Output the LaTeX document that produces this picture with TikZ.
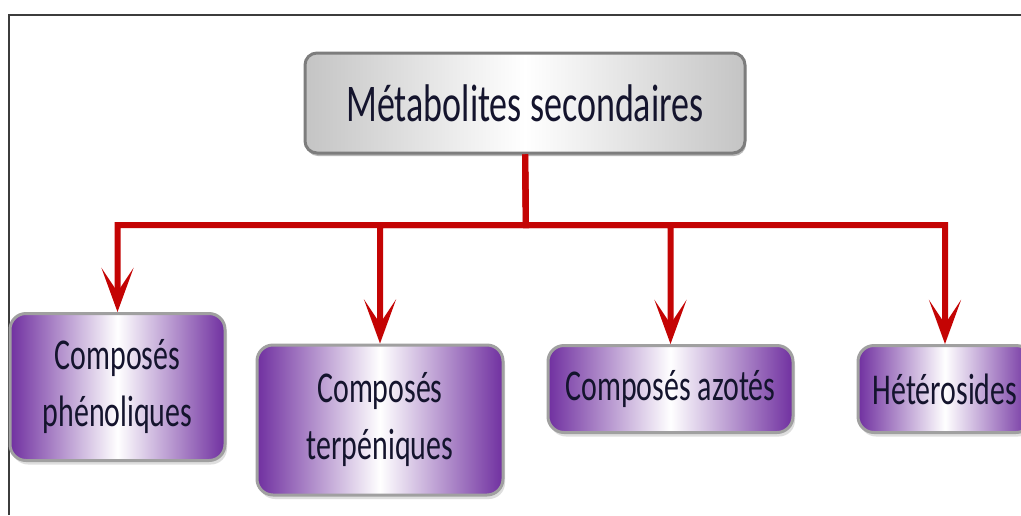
\documentclass[tikz,border=0pt]{standalone}
\usepackage{fontspec}
\setmainfont{Carlito}[FakeStretch=0.68]
\usepackage{tikz}
\usetikzlibrary{arrows.meta,shadows}

\definecolor{arrowred}{RGB}{196,4,4}
\definecolor{boxviolet}{RGB}{112,48,160}
\definecolor{boxgray}{RGB}{196,196,196}
\definecolor{txtdark}{RGB}{20,20,45}

\tikzset{
  rline/.style={draw=arrowred, line width=6, -{Stealth[length=44,width=32,inset=24]}},
  headbox/.style={draw={rgb,255:red,125;green,125;blue,125}, line width=3, rounded corners=12,
    left color=boxgray, right color=boxgray, middle color=white,
    drop shadow={shadow xshift=1pt, shadow yshift=-3pt, fill=black!55},
    text=txtdark, align=center, font=\fontsize{53}{60}\selectfont},
  classbox/.style={draw={rgb,255:red,160;green,160;blue,160}, line width=3, rounded corners=16,
    left color=boxviolet, right color=boxviolet, middle color=white,
    drop shadow={shadow xshift=2pt, shadow yshift=-4pt, fill=black!25},
    text=txtdark, align=center, inner sep=0pt, font=\fontsize{44}{57}\selectfont},
}

\begin{document}
\begin{tikzpicture}[x=1pt,y=1pt,yscale=-1,xscale=1]
\clip (0,0) rectangle (1021,515);
\fill[white] (0,0) rectangle (1021,515);
%Frame
\draw [color={rgb,255:red,60;green,60;blue,60}, line width=2] (9,515) -- (9,15) -- (1021,15);
% Head Node
\node [headbox, minimum width=440, minimum height=100] (meta) at (525,103) {Métabolites secondaires};
% Class Nodes
\node [classbox, minimum width=215, minimum height=147] (phen) at (117.5,387) {Composés\\phénoliques};
\node [classbox, minimum width=246, minimum height=150] (terp) at (380,420) {Composés\\terpéniques};
\node [classbox, minimum width=245, minimum height=87] (azo) at (670.5,389) {Composés azotés};
\node [classbox, minimum width=174, minimum height=87] (het) at (945,389) {Hétérosides};
%Branch point
\coordinate (bar) at (526,225);
%Arrows
\draw [rline] (meta.south) -- (bar) -| (phen.north);
\draw [rline] (meta.south) -- (bar) -| (terp.north);
\draw [rline] (meta.south) -- (bar) -| (azo.north);
\draw [rline] (meta.south) -- (bar) -| (het.north);
\end{tikzpicture}
\end{document}
